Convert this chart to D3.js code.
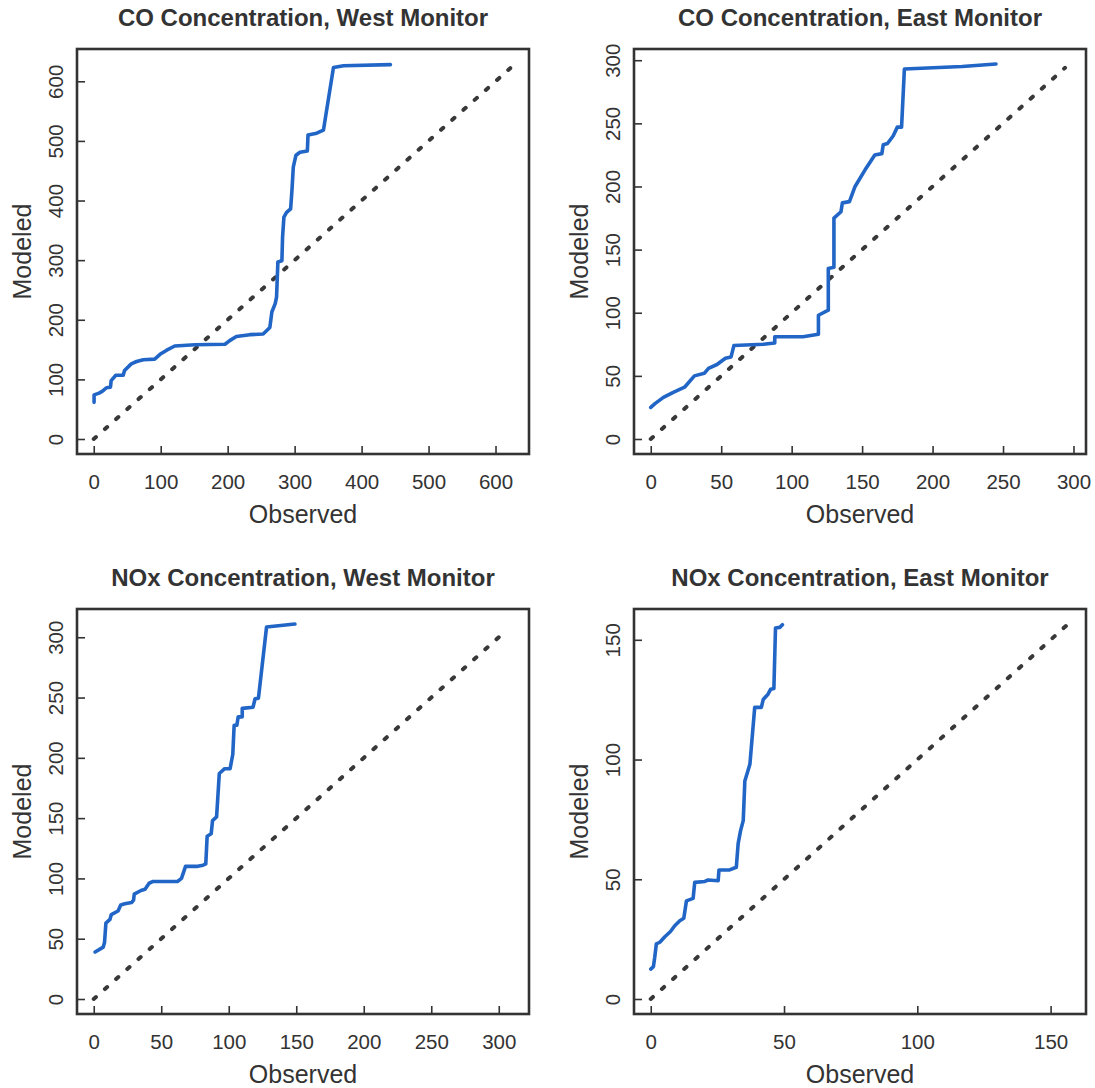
<!DOCTYPE html>
<html>
<head>
<meta charset="utf-8">
<script src="https://cdn.jsdelivr.net/npm/d3@7"></script>
<style>
  html, body { margin: 0; padding: 0; background: #fff; }
  svg { display: block; }
  text { font-family: "Liberation Sans", Arial, Helvetica, sans-serif; fill: #333; }
</style>
</head>
<body>
<svg id="chart" width="1095" height="1088"></svg>
<script>
// ---------- Data ----------
const panelTitles = [
  "CO Concentration, West Monitor",
  "CO Concentration, East Monitor",
  "NOx Concentration, West Monitor",
  "NOx Concentration, East Monitor"
];
const xAxisLabel = "Observed";
const yAxisLabel = "Modeled";

// CO, West monitor (sorted observed vs sorted modeled)
const coWestObserved = [0.5,0.5,8,14,19,25,26,33,44,46,56,64,74,91,99,109,121,151,196,203,213,233,253,263,266,271,273,275,281,282,284,288,294,296,298,302,308,319,320,333,343,358,373,443];
const coWestModeled  = [61.5,74,77,81,86,87,98,107,107,115,126,130,133,134,142,149,156,158,159,165,172,175,176,187,213,227,238,297,299,339,372,380,386,417,456,476,481,483,510,513,518,623,626,628];

// CO, East monitor
const coEastObserved = [0,3,9,16,24,31,38,41,47,53,57,59,80,88,88,108,119,119,126,126,130,130,135,136,141,145,152,159,164,165,168,172,175,178,180,221,245];
const coEastModeled  = [25,28,33,37,41,50,52,56,59,64,65,74,75,76,81,81,83,98,102,135,136,175,180,187,188,200,213,225,226,233,234,240,247,247,293,295,297];

// NOx, West monitor
const noxWestObserved = [1,5.5,7,8,9,12,13,18,20,23,28,29.5,30,35,38,41,44,62,65,68,77,81,83,84,87,88,91,93,97,101,103,104,106,107,110,110,118,119.5,122,128,149];
const noxWestModeled  = [39,42,43,47,63,66,70,73,78,79,80,82,87,90,91,96,97.5,97.5,100,110,110,111,112,135,137,148,151,187,191,191,203,227,227,234,234,241,242,249,249.5,308.5,311];

// NOx, East monitor
const noxEastObserved = [0,1,1.5,2.1,3.4,5.3,7.4,9,10.9,12.4,13.4,15.9,16.5,20.3,21.5,25.3,25.6,29.6,32.1,32.8,33.7,34.7,35.3,37.2,39,41.5,42.2,44,45,46.2,46.8,48.4,49.4];
const noxEastModeled  = [12.5,13.5,17.4,23,23.7,26,28.2,30.6,32.7,33.7,41,42,48.7,49.1,49.7,49.4,53.9,53.9,55,65,70.3,74.5,91,98,121.8,121.8,125.1,127.3,129.4,129.7,154.9,155.2,156.3];

// Axis ranges (data limits before the 4% padding) and 1:1 reference line ends
const xLimits = [625, 297, 310, 157];
const yLimits = [629, 297, 311, 156.6];
const diagonalEnds = [622, 294, 306, 156];

// Tick labels
const ticksCOWest = [0, 100, 200, 300, 400, 500, 600];
const ticksCOEast = [0, 50, 100, 150, 200, 250, 300];
const ticksNOxWest = [0, 50, 100, 150, 200, 250, 300];
const ticksNOxEast = [0, 50, 100, 150];

const observedSeries = [coWestObserved, coEastObserved, noxWestObserved, noxEastObserved];
const modeledSeries  = [coWestModeled, coEastModeled, noxWestModeled, noxEastModeled];
const tickSets = [ticksCOWest, ticksCOEast, ticksNOxWest, ticksNOxEast];

// ---------- Layout ----------
const boxW = 452, boxH = 405;
const boxOrigins = [[77, 49], [634, 49], [77, 609], [634, 609]];

const svg = d3.select("#chart");

panelTitles.forEach((title, i) => {
  const [bx, by] = boxOrigins[i];
  const g = svg.append("g").attr("transform", `translate(${bx},${by})`);

  const xPad = xLimits[i] * 0.04, yPad = yLimits[i] * 0.04;
  const x = d3.scaleLinear().domain([-xPad, xLimits[i] + xPad]).range([0, boxW]);
  const y = d3.scaleLinear().domain([-yPad, yLimits[i] + yPad]).range([boxH, 0]);

  // Axes: ticks pointing inward, labels outside
  const xAxis = g.append("g").attr("transform", `translate(0,${boxH})`)
    .call(d3.axisBottom(x).tickValues(tickSets[i]).tickSize(-8).tickPadding(20).tickFormat(d3.format("d")));
  const yAxis = g.append("g")
    .call(d3.axisLeft(y).tickValues(tickSets[i]).tickSize(-8).tickPadding(20).tickFormat(d3.format("d")));
  [xAxis, yAxis].forEach(a => {
    a.select(".domain").remove();
    a.selectAll(".tick line").attr("stroke", "#333").attr("stroke-width", 1.6);
    a.selectAll(".tick text").attr("font-size", 20.5).attr("fill", "#333")
      .style("font-family", '"Liberation Sans", Arial, sans-serif');
  });
  xAxis.selectAll(".tick text").attr("dy", "0.71em").attr("y", 20);
  yAxis.selectAll(".tick text")
    .attr("x", null).attr("dy", null)
    .attr("text-anchor", "middle")
    .attr("transform", "translate(-22,0) rotate(-90)")
    .attr("dominant-baseline", "central");

  // Clip region
  const clipId = "clip" + i;
  g.append("clipPath").attr("id", clipId)
    .append("rect").attr("width", boxW).attr("height", boxH);

  // 1:1 dotted reference line
  const dEnd = diagonalEnds[i];
  g.append("path")
    .datum([[0, 0], [dEnd, dEnd]])
    .attr("clip-path", `url(#${clipId})`)
    .attr("d", d3.line().x(d => x(d[0])).y(d => y(d[1])))
    .attr("fill", "none")
    .attr("stroke", "#383838")
    .attr("stroke-width", 4)
    .attr("stroke-linecap", "round")
    .attr("stroke-dasharray", "3,12");

  // Q-Q curve
  const pts = observedSeries[i].map((o, k) => [o, modeledSeries[i][k]]);
  g.append("path")
    .datum(pts)
    .attr("clip-path", `url(#${clipId})`)
    .attr("d", d3.line().x(d => x(d[0])).y(d => y(d[1])))
    .attr("fill", "none")
    .attr("stroke", "#2166c6")
    .attr("stroke-width", 3.6)
    .attr("stroke-linejoin", "round")
    .attr("stroke-linecap", "round");

  // Box
  g.append("rect")
    .attr("width", boxW).attr("height", boxH)
    .attr("fill", "none").attr("stroke", "#333").attr("stroke-width", 2.6);

  // Title
  g.append("text")
    .attr("x", boxW / 2).attr("y", -32)
    .attr("text-anchor", "middle").attr("dominant-baseline", "central")
    .attr("font-size", 24).attr("font-weight", "bold")
    .text(title);

  // Axis labels
  g.append("text")
    .attr("x", boxW / 2).attr("y", boxH + 60)
    .attr("text-anchor", "middle").attr("dominant-baseline", "central")
    .attr("font-size", 25)
    .text(xAxisLabel);
  g.append("text")
    .attr("transform", `translate(-55,${boxH / 2}) rotate(-90)`)
    .attr("text-anchor", "middle").attr("dominant-baseline", "central")
    .attr("font-size", 25)
    .text(yAxisLabel);
});
</script>
</body>
</html>
